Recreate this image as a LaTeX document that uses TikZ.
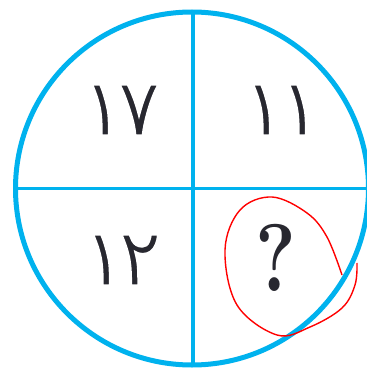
\documentclass[tikz,border=0pt]{standalone}
\usepackage{fontspec}
\newfontfamily\arabicfont[Script=Arabic]{DejaVu Sans}
\definecolor{ring}{RGB}{0,178,238}
\definecolor{ink}{RGB}{40,40,48}
\newcommand{\thinink}[1]{\special{pdf:literal direct 2 Tr 1 1 1 RG 1.8 w}#1\special{pdf:literal direct 0 Tr}}
\tikzset{
  digits/.style={font=\arabicfont\fontsize{80}{80}\selectfont, text=ink, inner sep=0pt},
  quest/.style={font=\bfseries\fontsize{96}{96}\selectfont, text=ink, inner sep=0pt, xscale=0.8},
  divider/.style={draw=ring, line width=3.5pt},
}
\begin{document}
\begin{tikzpicture}[x=1pt,y=-1pt]
\fill[white] (0,0) rectangle (366,374);
\useasboundingbox (0,0) rectangle (366,374);
\coordinate (c) at (192,188.5);
\draw[ring, line width=5pt] (c) circle[radius=176.5];
\coordinate (cn) at (193,12);
\coordinate (cs) at (193,365);
\coordinate (cw) at (15.5,188.5);
\coordinate (ce) at (370,188.5);
\draw[divider] (cn) -- (cs);
\draw[divider] (cw) -- (ce);
\node[quest] (q) at (276,258) {?};
\draw[red, line width=1.4pt] plot[smooth, tension=0.6] coordinates {(342,275) (327,237) (307,213) (272,197) (240,210) (225,250) (237,305) (277,335) (310,327) (342,308) (355,285) (357,263)};
\node[digits] (a) at (121,110) {\thinink{۱\kern-7pt۷}};
\node[digits] (b) at (282,110) {\thinink{۱\kern-7pt۱}};
\node[digits] (d) at (122,260) {\thinink{۱\kern-7pt۲}};
\end{tikzpicture}
\end{document}
